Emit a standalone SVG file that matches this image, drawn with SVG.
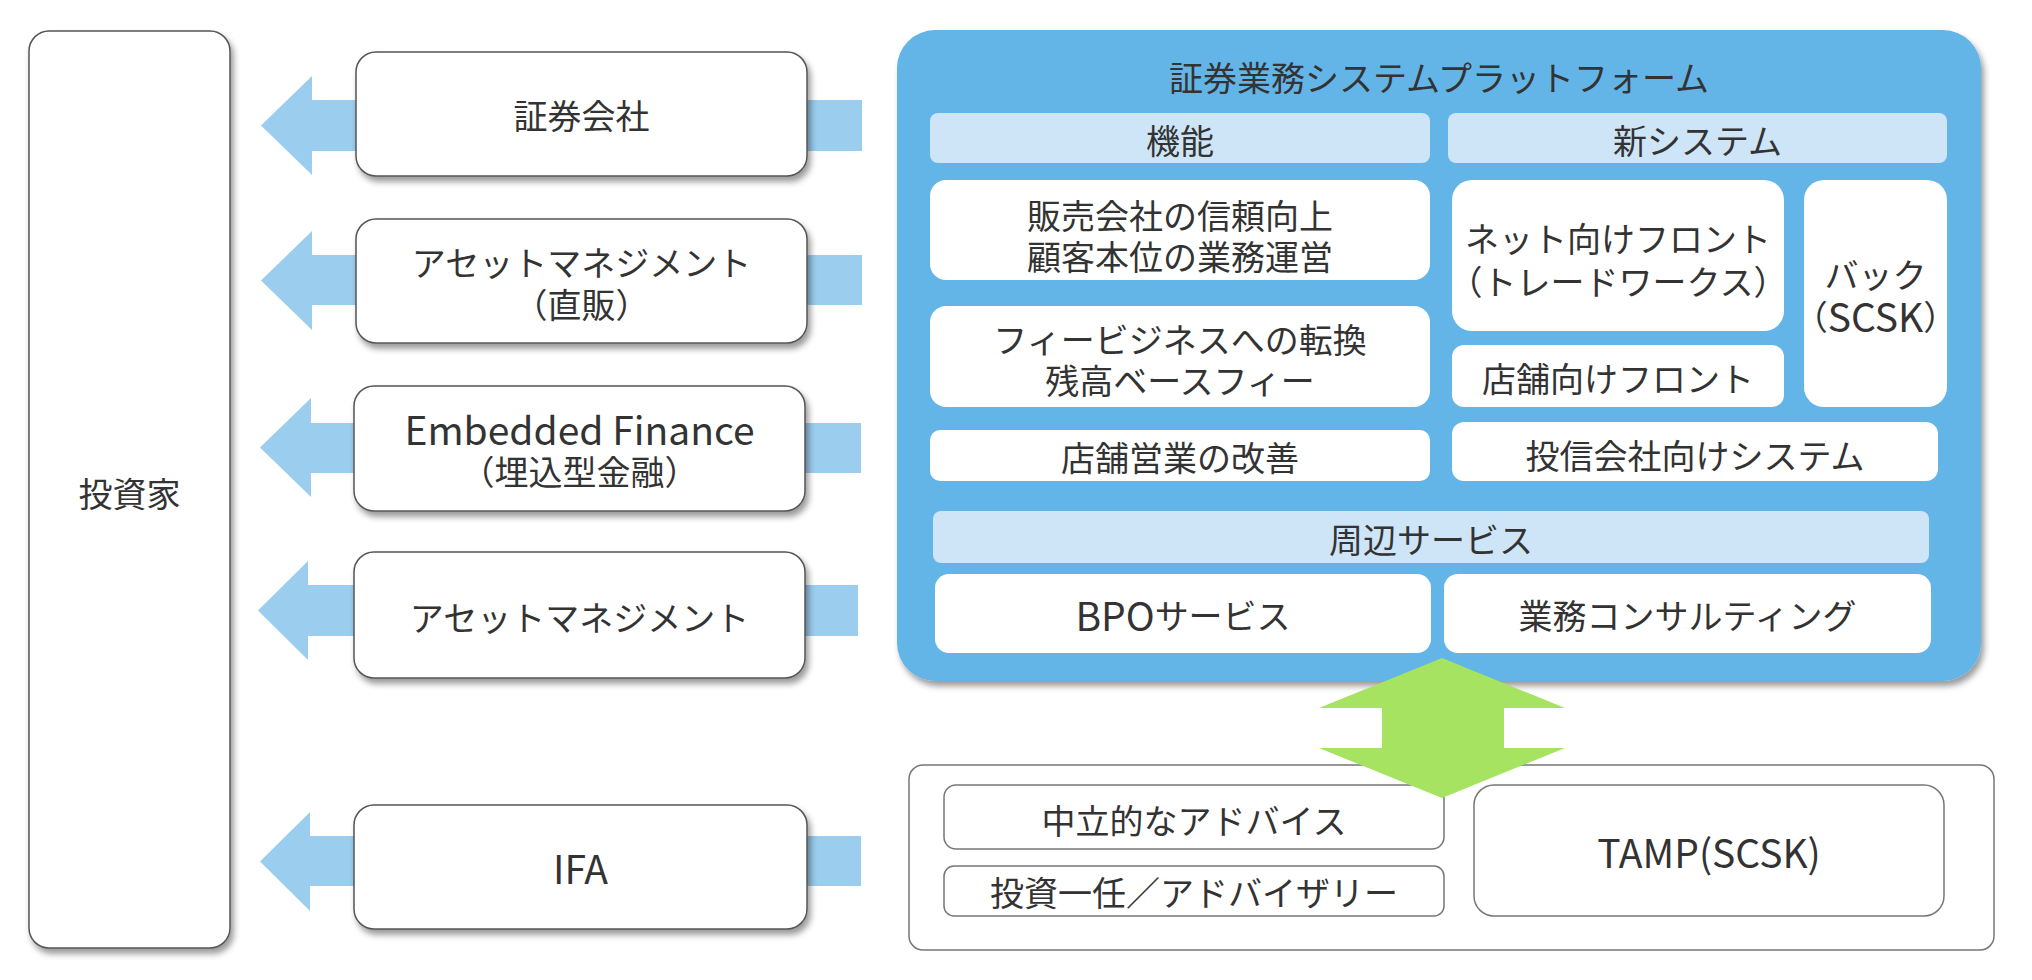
<svg xmlns="http://www.w3.org/2000/svg" width="2032" height="980" viewBox="0 0 2032 980">
<defs>
<filter id="sh" x="-10%" y="-10%" width="130%" height="130%">
<feDropShadow dx="3" dy="5" stdDeviation="3" flood-color="#000" flood-opacity="0.4"/>
</filter>
</defs>
<style>
.t{font-family:"Noto Sans CJK JP","Noto Sans",sans-serif;font-size:34px;fill:#333;text-anchor:middle;dominant-baseline:central}
.l{font-size:39px}
.box{fill:#fff;stroke:#555;stroke-width:1.5;filter:url(#sh)}
.wb{fill:#fff}
.hd{fill:#cde5f7}
.ba{fill:#9bcdee}
.ob{fill:#fff;stroke:#777;stroke-width:1.5}
.ib{fill:#fff;stroke:#777;stroke-width:1.5}
</style>
<rect width="2032" height="980" fill="#fff"/>
<g id="connectors">
<polygon class="ba" points="862,100 312,100 312,76 261,125.5 312,175 312,151 862,151"/>
<polygon class="ba" points="862,255 312,255 312,231 261,280.5 312,330 312,305 862,305"/>
<polygon class="ba" points="861,423 311,423 311,398 260,447.5 311,497 311,473 861,473"/>
<polygon class="ba" points="858,585 308,585 308,561 258,610.5 308,660 308,636 858,636"/>
<polygon class="ba" points="861,836 310,836 310,812 260,861.5 310,911 310,886 861,886"/>
</g>
<g id="investor">
<rect class="box" x="29" y="31" width="201" height="917" rx="20"/>
<text class="t" x="129.5" y="492">投資家</text>
</g>
<g id="securities">
<rect class="box" x="356" y="52" width="451" height="124" rx="20"/>
<text class="t" x="581.5" y="114">証券会社</text>
</g>
<g id="am-direct">
<rect class="box" x="356" y="219" width="451" height="124" rx="20"/>
<text class="t" x="581.5" y="261">アセットマネジメント<tspan x="581.5" dy="42">（直販）</tspan></text>
</g>
<g id="embedded">
<rect class="box" x="354" y="386" width="451" height="125" rx="20"/>
<text class="t" x="579.5" y="428"><tspan class="l">Embedded Finance</tspan><tspan x="579.5" dy="42">（埋込型金融）</tspan></text>
</g>
<g id="am">
<rect class="box" x="354" y="552" width="451" height="126" rx="20"/>
<text class="t" x="579.5" y="616">アセットマネジメント</text>
</g>
<g id="ifa">
<rect class="box" x="354" y="805" width="453" height="124" rx="20"/>
<text class="t l" x="580.5" y="867">IFA</text>
</g>
<g id="platform">
<rect x="897" y="30" width="1084" height="651" rx="38" fill="#64b5e7" filter="url(#sh)"/>
<text class="t" x="1439" y="76">証券業務システムプラットフォーム</text>
</g>
<g id="h-func">
<rect class="hd" x="930" y="113" width="500" height="50" rx="8"/>
<text class="t" x="1180" y="139">機能</text>
</g>
<g id="h-new">
<rect class="hd" x="1448" y="113" width="499" height="50" rx="8"/>
<text class="t" x="1697.5" y="139">新システム</text>
</g>
<g id="f1">
<rect class="wb" x="930" y="180" width="500" height="100" rx="16"/>
<text class="t" x="1180" y="214">販売会社の信頼向上<tspan x="1180" dy="41">顧客本位の業務運営</tspan></text>
</g>
<g id="f2">
<rect class="wb" x="930" y="306" width="500" height="101" rx="16"/>
<text class="t" x="1180" y="338">フィービジネスへの転換<tspan x="1180" dy="41">残高ベースフィー</tspan></text>
</g>
<g id="f3">
<rect class="wb" x="930" y="430" width="500" height="51" rx="10"/>
<text class="t" x="1180" y="456">店舗営業の改善</text>
</g>
<g id="n1">
<rect class="wb" x="1452" y="180" width="332" height="151" rx="20"/>
<text class="t" x="1618" y="237">ネット向けフロント<tspan x="1618" dy="43">（トレードワークス）</tspan></text>
</g>
<g id="n2">
<rect class="wb" x="1452" y="345" width="332" height="62" rx="12"/>
<text class="t" x="1618" y="377">店舗向けフロント</text>
</g>
<g id="n3">
<rect class="wb" x="1804" y="180" width="143" height="227" rx="20"/>
<text class="t" x="1875.5" y="273">バック<tspan x="1875.5" dy="42">（</tspan><tspan class="l">SCSK</tspan><tspan>）</tspan></text>
</g>
<g id="n4">
<rect class="wb" x="1452" y="422" width="486" height="59" rx="12"/>
<text class="t" x="1695" y="454">投信会社向けシステム</text>
</g>
<g id="h-svc">
<rect class="hd" x="933" y="511" width="996" height="52" rx="8"/>
<text class="t" x="1431" y="538">周辺サービス</text>
</g>
<g id="bpo">
<rect class="wb" x="935" y="574" width="496" height="79" rx="14"/>
<text class="t" x="1183" y="614"><tspan class="l">BPO</tspan>サービス</text>
</g>
<g id="consult">
<rect class="wb" x="1444" y="574" width="487" height="79" rx="14"/>
<text class="t" x="1687.5" y="614">業務コンサルティング</text>
</g>
<g id="lower">
<rect class="ob" x="909" y="765" width="1085" height="185" rx="14"/>
</g>
<g id="advice">
<rect class="ib" x="944" y="785" width="500" height="64" rx="12"/>
<text class="t" x="1194" y="819">中立的なアドバイス</text>
</g>
<g id="discretion">
<rect class="ib" x="944" y="866" width="500" height="50" rx="10"/>
<text class="t" x="1194" y="891">投資一任／アドバイザリー</text>
</g>
<g id="tamp">
<rect class="ib" x="1474" y="785" width="470" height="131" rx="20"/>
<text class="t l" x="1709" y="851">TAMP(SCSK)</text>
</g>
<g id="link">
<polygon fill="#a5e360" points="1442,658 1565,708 1504,708 1504,748 1565,748 1442,798 1319,748 1382,748 1382,708 1319,708"/>
</g>
</svg>
